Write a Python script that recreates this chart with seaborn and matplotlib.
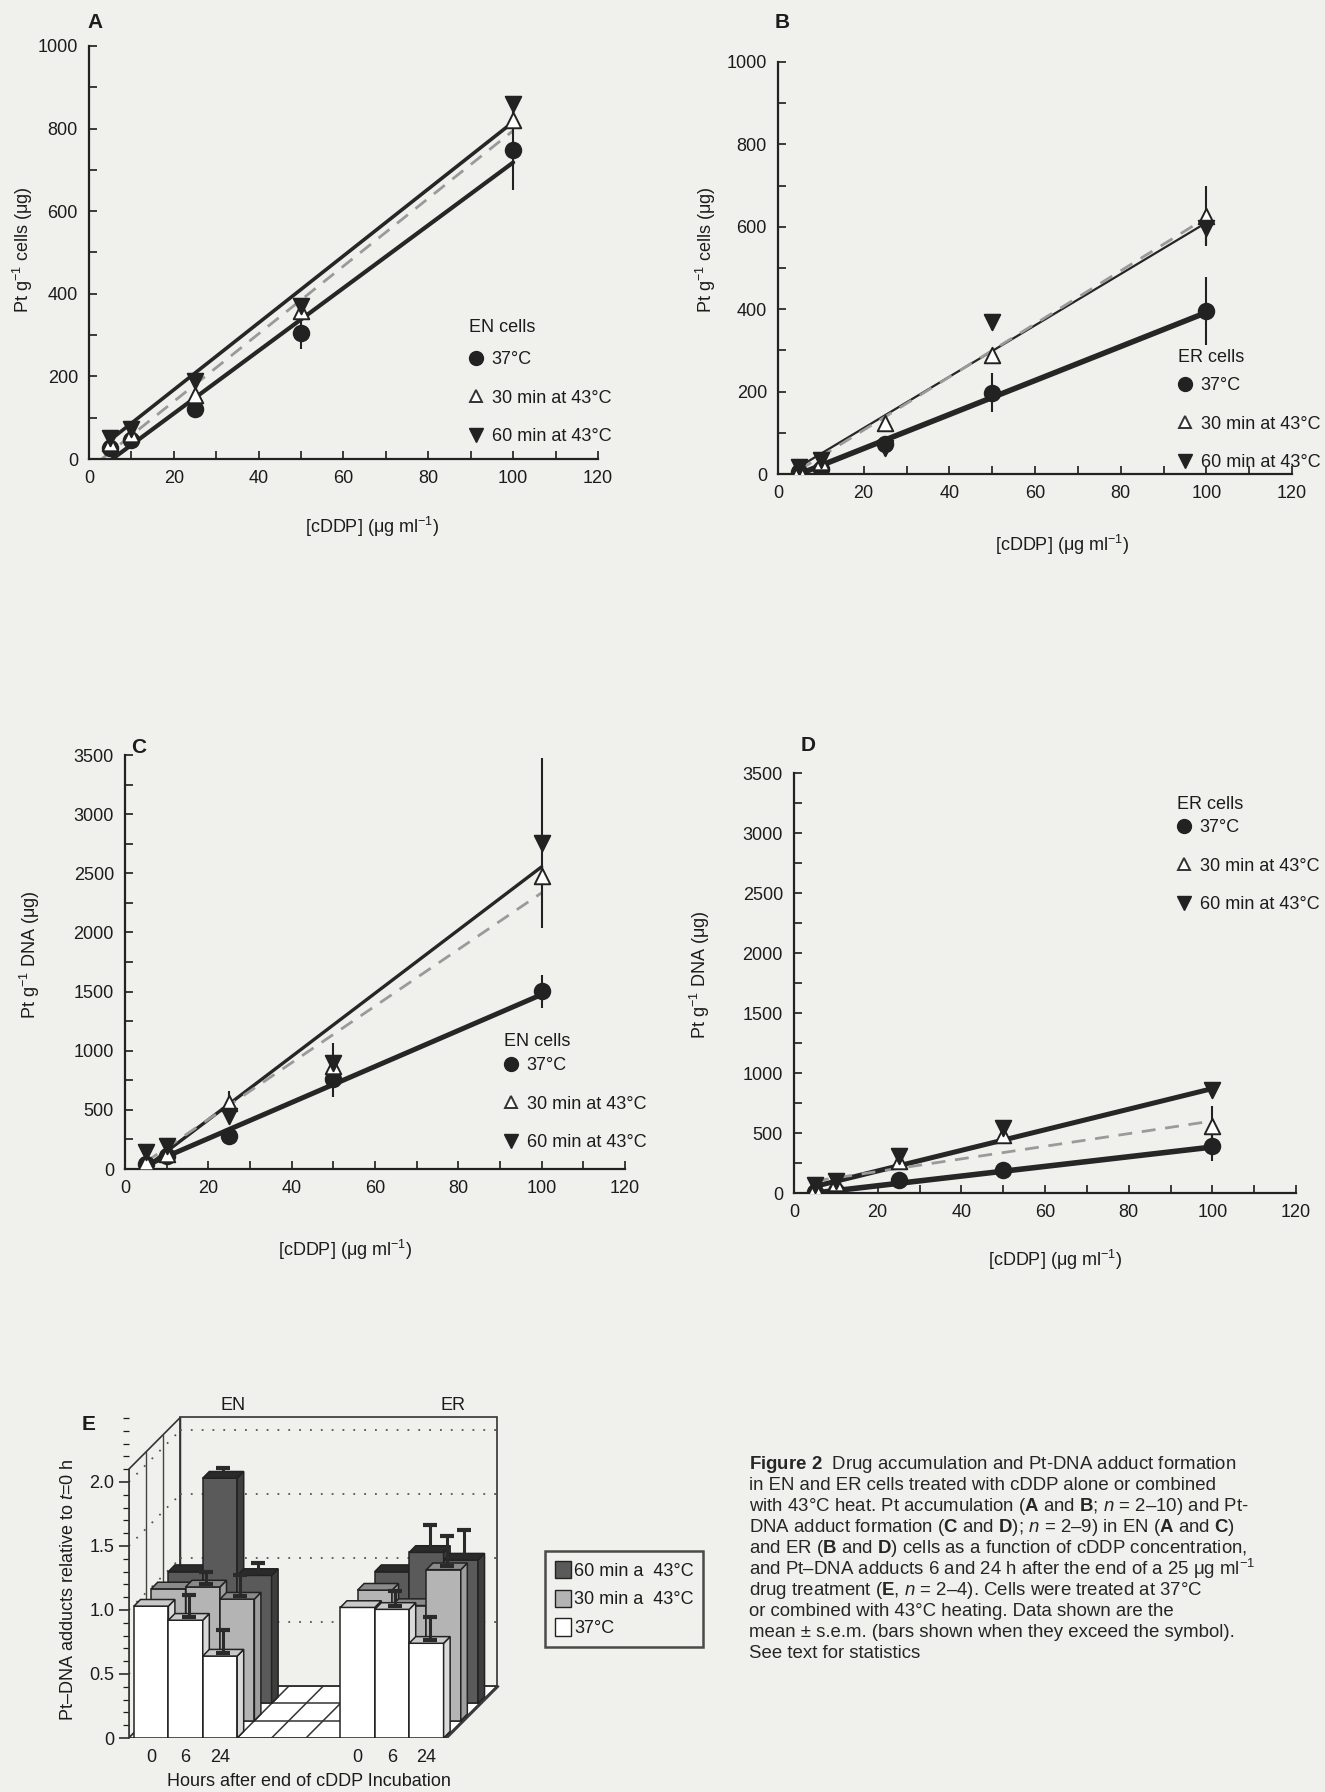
import numpy as np
import pandas as pd
import matplotlib
matplotlib.use("Agg")
import matplotlib.pyplot as plt
import seaborn as sns
from matplotlib.patches import Polygon, Patch
from matplotlib.lines import Line2D
from matplotlib.ticker import MultipleLocator

# ------------------------------------------------------------------ data
conc = [5, 10, 25, 50, 100]
cond_labels = ["37°C", "30 min at 43°C", "60 min at 43°C"]

# Panel A - EN cells, Pt accumulation
A_37 = [27, 47, 121, 306, 747]
A_37_err = [0, 0, 0, 40, 95]
A_30 = [39, 60, 155, 358, 820]
A_30_err = [0, 0, 0, 0, 0]
A_60 = [52, 73, 190, 371, 859]
A_60_err = [0, 0, 0, 0, 0]
A_fit37_x, A_fit37_y = [5.5, 100], [0, 718]
A_fit60_x, A_fit60_y = [4, 100], [38, 816]
A_fit30_x, A_fit30_y = [3, 100], [0, 795]

# Panel B - ER cells, Pt accumulation
B_37 = [5, 13, 73, 197, 395]
B_37_err = [0, 0, 0, 47, 82]
B_30 = [9, 30, 124, 288, 627]
B_30_err = [0, 0, 0, 0, 73]
B_60 = [17, 34, 64, 369, 597]
B_60_err = [0, 0, 20, 20, 40]
B_fit37_x, B_fit37_y = [5, 100], [0, 392]
B_fit60_x, B_fit60_y = [5, 100], [18, 610]
B_fit30_x, B_fit30_y = [5, 100], [10, 622]

# Panel C - EN cells, Pt-DNA adducts
C_37 = [42, 112, 281, 759, 1504]
C_37_err = [0, 0, 0, 150, 140]
C_30 = [56, 127, 562, 871, 2474]
C_30_err = [0, 0, 100, 0, 0]
C_60 = [140, 197, 450, 900, 2755]
C_60_err = [0, 0, 0, 165, 720]
C_fit37_x, C_fit37_y = [5, 100], [30, 1475]
C_fit60_x, C_fit60_y = [5, 100], [15, 2555]
C_fit30_x, C_fit30_y = [5, 100], [60, 2335]

# Panel D - ER cells, Pt-DNA adducts
D_37 = [6, 19, 111, 194, 394]
D_37_err = [0, 0, 0, 0, 125]
D_30 = [42, 83, 264, 486, 556]
D_30_err = [0, 0, 0, 0, 166]
D_60 = [69, 97, 306, 542, 861]
D_60_err = [0, 0, 0, 0, 0]
D_fit37_x, D_fit37_y = [5, 100], [0, 383]
D_fit60_x, D_fit60_y = [5, 100], [55, 870]
D_fit30_x, D_fit30_y = [5, 100], [100, 600]

# Panel E - Pt-DNA adducts relative to t=0 h
hours = ["0", "6", "24"]
cell_lines = ["EN", "ER"]
E_treat = ["37°C", "30 min a  43°C", "60 min a  43°C"]
E_EN_37 = [1.03, 0.92, 0.64]
E_EN_37_err = [0.0, 0.17, 0.18]
E_EN_30 = [1.03, 1.045, 0.95]
E_EN_30_err = [0.0, 0.09, 0.16]
E_EN_60 = [1.03, 1.76, 1.00]
E_EN_60_err = [0.0, 0.05, 0.07]
E_ER_37 = [1.02, 1.005, 0.74]
E_ER_37_err = [0.0, 0.12, 0.18]
E_ER_30 = [1.02, 0.90, 1.18]
E_ER_30_err = [0.0, 0.0, 0.24]
E_ER_60 = [1.03, 1.18, 1.12]
E_ER_60_err = [0.0, 0.19, 0.21]

caption_lines = [
    r"$\mathbf{Figure\ 2}$  Drug accumulation and Pt-DNA adduct formation",
    "in EN and ER cells treated with cDDP alone or combined",
    r"with 43°C heat. Pt accumulation ($\mathbf{A}$ and $\mathbf{B}$; $\mathit{n}$ = 2–10) and Pt-",
    r"DNA adduct formation ($\mathbf{C}$ and $\mathbf{D}$); $\mathit{n}$ = 2–9) in EN ($\mathbf{A}$ and $\mathbf{C}$)",
    r"and ER ($\mathbf{B}$ and $\mathbf{D}$) cells as a function of cDDP concentration,",
    r"and Pt–DNA adducts 6 and 24 h after the end of a 25 μg ml$^{-1}$",
    r"drug treatment ($\mathbf{E}$, $\mathit{n}$ = 2–4). Cells were treated at 37°C",
    "or combined with 43°C heating. Data shown are the",
    "mean ± s.e.m. (bars shown when they exceed the symbol).",
    "See text for statistics",
]

# ------------------------------------------------------------------ style
sns.set_theme(style="ticks")
BG = "#f0f0ed"
INK = "#1c1c1c"
plt.rcParams["font.family"] = ["Liberation Sans Narrow", "Liberation Sans", "DejaVu Sans"]
plt.rcParams["mathtext.fontset"] = "custom"
plt.rcParams["mathtext.rm"] = "Liberation Sans"
plt.rcParams["mathtext.it"] = "Liberation Sans:italic"
plt.rcParams["mathtext.bf"] = "Liberation Sans:bold"
plt.rcParams["text.color"] = INK
plt.rcParams["axes.labelcolor"] = INK
plt.rcParams["xtick.color"] = INK
plt.rcParams["ytick.color"] = INK

W, H = 1325, 1792
fig = plt.figure(figsize=(W / 100, H / 100), dpi=100, facecolor=BG)

FS = 13


def rect(left, right, top, bottom):
    return [left / W, 1 - bottom / H, (right - left) / W, (bottom - top) / H]


def line_panel(r, ymax, ymaj, ymin_, series, fits, cell, letter, ylab,
               letter_xy, leg_x, title_y, row1_y, ylab_xy, xlab_xy):
    ax = fig.add_axes(r)
    ax.set_facecolor("none")
    for (xs, ys, lw, dashed) in fits:
        sns.lineplot(x=xs, y=ys, ax=ax, color=("#9a9a9a" if dashed else "#262626"),
                     linewidth=lw, linestyle=("--" if dashed else "-"),
                     dashes=False, legend=False, zorder=2)
        if dashed:
            ax.lines[-1].set_dashes((5, 3.5))
    for (vals, errs, marker, face) in series:
        e = np.array(errs, dtype=float)
        m = e > 0
        ax.errorbar(np.array(conc)[m], np.array(vals)[m], yerr=e[m], fmt="none",
                    ecolor="#222222", elinewidth=1.5, capsize=0, zorder=3)
        sns.scatterplot(x=conc, y=vals, ax=ax, marker=marker, s=125,
                        facecolor=face, edgecolor="#222222", linewidth=1.4,
                        zorder=4, legend=False)
    ax.set_xlim(0, 120)
    ax.set_ylim(0, ymax)
    ax.xaxis.set_major_locator(MultipleLocator(20))
    ax.xaxis.set_minor_locator(MultipleLocator(10))
    ax.yaxis.set_major_locator(MultipleLocator(ymaj))
    ax.yaxis.set_minor_locator(MultipleLocator(ymin_))
    ax.tick_params(which="both", direction="in", length=6, width=1.2,
                   labelsize=FS, pad=8)
    sns.despine(ax=ax)
    for s in ["left", "bottom"]:
        ax.spines[s].set_linewidth(1.6)
        ax.spines[s].set_color("#222222")
    ax.set_xlabel("")
    ax.set_ylabel("")
    fig.text(xlab_xy[0] / W, 1 - xlab_xy[1] / H, r"[cDDP] (μg ml$^{-1}$)",
             ha="center", va="center", fontsize=FS)
    fig.text(ylab_xy[0] / W, 1 - ylab_xy[1] / H, ylab, rotation=90,
             ha="center", va="center", fontsize=FS)
    fig.text(letter_xy[0] / W, 1 - letter_xy[1] / H, letter, fontsize=FS + 2,
             fontweight="bold", ha="center", va="center",
             family=["Liberation Sans", "DejaVu Sans"])
    # legend title
    fig.text(leg_x / W, 1 - title_y / H, cell, ha="left", va="center", fontsize=FS)
    handles = [
        Line2D([], [], ls="none", marker="o", markersize=10, color="#222222"),
        Line2D([], [], ls="none", marker="^", markersize=9, markerfacecolor="white",
               markeredgecolor="#333333", markeredgewidth=1.4),
        Line2D([], [], ls="none", marker="v", markersize=10, color="#222222"),
    ]
    ax.legend(handles, cond_labels, loc="upper left",
              bbox_to_anchor=((leg_x - r[0] * W) / (r[2] * W),
                              ((1 - (row1_y - 10) / H) - r[1]) / r[3]),
              frameon=False, fontsize=FS,
              handlelength=0.8, handletextpad=0.45, labelspacing=1.2,
              borderpad=0, borderaxespad=0)
    return ax


# Panel A
line_panel(rect(89, 598, 46, 459), 1000, 200, 100,
           [(A_37, A_37_err, "o", "#222222"), (A_30, A_30_err, "^", "white"),
            (A_60, A_60_err, "v", "#222222")],
           [(A_fit37_x, A_fit37_y, 3.0, False), (A_fit60_x, A_fit60_y, 2.6, False),
            (A_fit30_x, A_fit30_y, 2.0, True)],
           "EN cells", "A", r"Pt g$^{-1}$ cells (μg)",
           (95, 23), 469, 328, 361, (23, 250), (372, 527))

# Panel B
line_panel(rect(778, 1292, 62, 474), 1000, 200, 100,
           [(B_37, B_37_err, "o", "#222222"), (B_30, B_30_err, "^", "white"),
            (B_60, B_60_err, "v", "#222222")],
           [(B_fit37_x, B_fit37_y, 4.0, False), (B_fit60_x, B_fit60_y, 1.6, False),
            (B_fit30_x, B_fit30_y, 2.0, True)],
           "ER cells", "B", r"Pt g$^{-1}$ cells (μg)",
           (782, 23), 1178, 358, 387, (706, 250), (1062, 545))

# Panel C
line_panel(rect(125, 625, 755, 1169), 3500, 500, 250,
           [(C_37, C_37_err, "o", "#222222"), (C_30, C_30_err, "^", "white"),
            (C_60, C_60_err, "v", "#222222")],
           [(C_fit37_x, C_fit37_y, 3.6, False), (C_fit60_x, C_fit60_y, 2.4, False),
            (C_fit30_x, C_fit30_y, 2.0, True)],
           "EN cells", "C", r"Pt g$^{-1}$ DNA (μg)",
           (139, 747), 504, 1042, 1067, (30, 955), (345, 1250))

# Panel D
line_panel(rect(794, 1296, 773, 1193), 3500, 500, 250,
           [(D_37, D_37_err, "o", "#222222"), (D_30, D_30_err, "^", "white"),
            (D_60, D_60_err, "v", "#222222")],
           [(D_fit37_x, D_fit37_y, 4.0, False), (D_fit60_x, D_fit60_y, 3.6, False),
            (D_fit30_x, D_fit30_y, 2.0, True)],
           "ER cells", "D", r"Pt g$^{-1}$ DNA (μg)",
           (808, 745), 1177, 804, 829, (700, 975), (1055, 1260))

# ------------------------------------------------------------------ panel E
axE = fig.add_axes(rect(128.8, 512.4, 1411.6, 1738))
axE.set_facecolor("none")
axE.set_xlim(-0.15, 11)
axE.set_ylim(0, 2.55)
RDX, RDY = 0.5, 0.135      # oblique offset between rows
BDX, BDY = 0.19, 0.052     # depth of a single bar
X0F, X1F = -0.15, 9.05     # floor extent
ZMAX = 2.1
DEP = 3                    # number of rows

wall_kw = dict(facecolor="none", edgecolor="#333333", linewidth=1.2)
# back wall
axE.add_patch(Polygon([(X0F + DEP * RDX, DEP * RDY), (X1F + DEP * RDX, DEP * RDY),
                       (X1F + DEP * RDX, DEP * RDY + ZMAX), (X0F + DEP * RDX, DEP * RDY + ZMAX)],
                      closed=True, **wall_kw, zorder=1))
# left wall
axE.add_patch(Polygon([(X0F, 0), (X0F + DEP * RDX, DEP * RDY),
                       (X0F + DEP * RDX, DEP * RDY + ZMAX), (X0F, ZMAX)],
                      closed=True, **wall_kw, zorder=1))
for k in range(1, DEP):
    axE.plot([X0F + k * RDX] * 2, [k * RDY, k * RDY + ZMAX], color="#444444", lw=1.0, zorder=1)
for z in [0.5, 1.0, 1.5, 2.0]:
    axE.plot([X0F + DEP * RDX, X1F + DEP * RDX], [DEP * RDY + z] * 2, ls=(0, (1, 5)),
             color="#555555", lw=1.3, zorder=1)
    axE.plot([X0F, X0F + DEP * RDX], [z, z + DEP * RDY], ls=(0, (1, 5)),
             color="#555555", lw=1.3, zorder=1)
# floor
axE.add_patch(Polygon([(X0F, 0), (X1F, 0), (X1F + DEP * RDX, DEP * RDY), (X0F + DEP * RDX, DEP * RDY)],
                      closed=True, facecolor="white", edgecolor="#333333", linewidth=1.2, zorder=1))
axE.add_patch(Polygon([(X0F, -0.02), (X1F, -0.02), (X1F + 0.06, 0.0), (X1F + DEP * RDX + 0.06, DEP * RDY),
                       (X1F + DEP * RDX, DEP * RDY), (X1F, 0), (X0F, 0)],
                      closed=True, facecolor="#dddddd", edgecolor="#333333", linewidth=1.0, zorder=1))
for k in range(1, DEP):
    axE.plot([X0F + k * RDX, X1F + k * RDX], [k * RDY] * 2, color="#333333", lw=1.1, zorder=1)
for c in [3, 4, 5, 6]:
    axE.plot([c, c + DEP * RDX], [0, DEP * RDY], color="#333333", lw=1.1, zorder=1)

E_faces = {0: ("#ffffff", "#c9c9c9", "#dadada"),
           1: ("#b4b4b4", "#8a8a8a", "#9e9e9e"),
           2: ("#5a5a5a", "#2a2a2a", "#3e3e3e")}
E_rows = {0: (E_EN_37, E_EN_37_err, E_ER_37, E_ER_37_err),
          1: (E_EN_30, E_EN_30_err, E_ER_30, E_ER_30_err),
          2: (E_EN_60, E_EN_60_err, E_ER_60, E_ER_60_err)}
group_start = {"EN": 0, "ER": 6}

zo = 2
for row in [2, 1, 0]:
    en_v, en_e, er_v, er_e = E_rows[row]
    front, top, side = E_faces[row]
    ox, oy = row * RDX, row * RDY
    for g, vals, errs in [("EN", en_v, en_e), ("ER", er_v, er_e)]:
        for i, (v, e) in enumerate(zip(vals, errs)):
            x = group_start[g] + i + ox
            axE.bar(x, v, width=1.0, bottom=oy, align="edge", color=front,
                    edgecolor="#222222", linewidth=1.1, zorder=zo)
            axE.add_patch(Polygon([(x + 1, oy), (x + 1 + BDX, oy + BDY),
                                   (x + 1 + BDX, oy + v + BDY), (x + 1, oy + v)],
                                  closed=True, facecolor=side, edgecolor="#222222",
                                  linewidth=1.1, zorder=zo))
            axE.add_patch(Polygon([(x, oy + v), (x + 1, oy + v),
                                   (x + 1 + BDX, oy + v + BDY), (x + BDX, oy + v + BDY)],
                                  closed=True, facecolor=top, edgecolor="#222222",
                                  linewidth=1.1, zorder=zo))
            if e > 0:
                axE.errorbar([x + 0.5 + BDX / 2], [oy + v + BDY / 2], yerr=[[0], [e]],
                             fmt="none", ecolor="#2a2a2a", elinewidth=2.2,
                             capsize=5, capthick=3, zorder=zo + 0.5)
            zo += 1

axE.set_xticks([0.5, 1.5, 2.5, 6.5, 7.5, 8.5])
axE.set_xticklabels(hours * 2)
axE.yaxis.set_minor_locator(MultipleLocator(0.1))
axE.set_yticks([0, 0.5, 1.0, 1.5, 2.0])
axE.set_yticklabels(["0", "0.5", "1.0", "1.5", "2.0"])
axE.tick_params(axis="x", length=0, labelsize=FS, pad=8)
axE.tick_params(axis="y", which="major", direction="out", length=7, width=1.1, labelsize=FS)
axE.tick_params(axis="y", which="minor", direction="out", length=4, width=0.9)
for s in ["top", "right", "bottom"]:
    axE.spines[s].set_visible(False)
axE.spines["left"].set_bounds(0, ZMAX)
axE.spines["left"].set_linewidth(1.2)
axE.spines["left"].set_color("#333333")
axE.text(2.88, 2.6, "EN", ha="center", va="center", fontsize=FS, clip_on=False)
axE.text(9.27, 2.6, "ER", ha="center", va="center", fontsize=FS, clip_on=False)
fig.text(89 / W, 1 - 1424 / H, "E", fontsize=FS + 2, fontweight="bold", ha="center",
         va="center", family=["Liberation Sans", "DejaVu Sans"])
fig.text(69 / W, 1 - 1590 / H, r"Pt–DNA adducts relative to $\mathit{t}$=0 h", rotation=90,
         ha="center", va="center", fontsize=FS)
fig.text(309 / W, 1 - 1781 / H, "Hours after end of cDDP Incubation", ha="center",
         va="center", fontsize=FS)

legE = fig.legend([Patch(facecolor=E_faces[2][0], edgecolor="#222222"),
                   Patch(facecolor=E_faces[1][0], edgecolor="#222222"),
                   Patch(facecolor=E_faces[0][0], edgecolor="#222222")],
                  [E_treat[2], E_treat[1], E_treat[0]],
                  loc="upper left", bbox_to_anchor=(545 / W, 1 - 1551 / H),
                  frameon=True, fancybox=False, fontsize=FS, handlelength=0.9,
                  handleheight=1.1, handletextpad=0.15, labelspacing=0.55,
                  borderpad=0.55, borderaxespad=0)
legE.get_frame().set_edgecolor("#222222")
legE.get_frame().set_linewidth(1.8)
legE.get_frame().set_facecolor(BG)

# ------------------------------------------------------------------ caption
for i, line in enumerate(caption_lines):
    fig.text(749 / W, 1 - (1464 + i * 21.0) / H, line, ha="left", va="center",
             fontsize=13.4, family=["Liberation Sans", "DejaVu Sans"], color="#262626")

fig.savefig("out.png", dpi=100, facecolor=BG)
